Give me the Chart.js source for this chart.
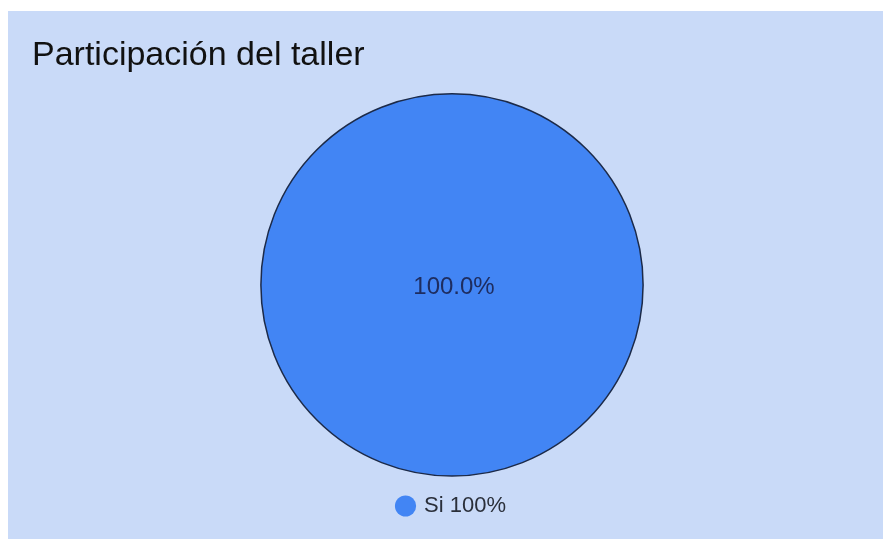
<!DOCTYPE html>
<html>
<head>
<meta charset="utf-8">
<script src="https://cdn.jsdelivr.net/npm/chart.js@4"></script>
<style>
  html, body { margin: 0; padding: 0; background: #fff; }
  #wrap {
    position: absolute; left: 8px; top: 11px;
    width: 875px; height: 528px;
    background: #c9daf8;
  }
</style>
</head>
<body>
<div id="wrap"><canvas id="pieChart" width="875" height="528"></canvas></div>
<script>
const chartTitle = 'Participación del taller';
const categories = ['Si 100%'];
const values = [100];
const sliceColors = ['#4285f4'];

const fontFamily = '"Liberation Sans", Arial, sans-serif';

// outline + percent label on each slice
const sliceLabels = {
  id: 'sliceLabels',
  afterDatasetsDraw(chart) {
    const ctx = chart.ctx;
    const meta = chart.getDatasetMeta(0);
    const total = values.reduce((a, b) => a + b, 0);
    ctx.save();
    meta.data.forEach((arc, i) => {
      const pct = values[i] / total * 100;
      if (pct >= 99.99) {
        // single full slice: only the outer ring, no radial seam
        ctx.beginPath();
        ctx.arc(arc.x, arc.y, arc.outerRadius, 0, Math.PI * 2);
        ctx.lineWidth = 1.5;
        ctx.strokeStyle = '#1c2a48';
        ctx.stroke();
      }
    });
    ctx.font = '24px ' + fontFamily;
    ctx.fillStyle = '#1e2d60';
    ctx.textAlign = 'center';
    ctx.textBaseline = 'middle';
    meta.data.forEach((arc, i) => {
      const pct = values[i] / total * 100;
      const pos = pct >= 99.99 ? { x: arc.x + 2, y: arc.y + 2 } : arc.tooltipPosition();
      ctx.fillText(pct.toFixed(1) + '%', pos.x, pos.y);
    });
    ctx.restore();
  }
};

const ctx = document.getElementById('pieChart').getContext('2d');
new Chart(ctx, {
  type: 'pie',
  data: {
    labels: categories,
    datasets: [{
      data: values,
      backgroundColor: sliceColors,
      borderWidth: 0
    }]
  },
  options: {
    responsive: false,
    animation: false,
    layout: { padding: { left: 24, right: 11, top: 0, bottom: 12 } },
    plugins: {
      title: {
        display: true,
        text: chartTitle,
        align: 'start',
        color: '#111',
        font: { family: fontFamily, size: 34, weight: 'normal' },
        padding: { top: 24, bottom: 18 }
      },
      legend: {
        position: 'bottom',
        labels: {
          usePointStyle: true,
          pointStyle: 'circle',
          boxWidth: 15,
          boxHeight: 15,
          padding: 19,
          color: '#2a2f3a',
          font: { family: fontFamily, size: 22 }
        }
      },
      tooltip: { enabled: false }
    }
  },
  plugins: [sliceLabels]
});
</script>
</body>
</html>
